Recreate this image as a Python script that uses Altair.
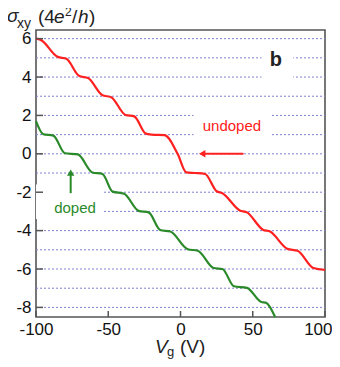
import altair as alt
import pandas as pd

# ---- data ----
red_x = [-100, -97, -85, -79, -70, -64, -54, -48, -38, -32, -24, -20, -11, -2, 4, 10, 17, 25, 29, 41, 46, 57, 62, 74, 81, 92, 100]
red_y = [6.0, 5.95, 5.05, 4.95, 4.05, 3.95, 3.05, 2.95, 2.02, 1.95, 1.05, 1.0, 0.97, 0.0, -0.97, -1.0, -1.05, -1.95, -2.05, -2.95, -3.05, -3.95, -4.05, -4.95, -5.05, -5.95, -6.05]

green_x = [-100, -95, -88, -80, -71, -61, -54, -47, -39, -29, -22, -14, -7, 5, 12, 23, 29, 37, 46, 56, 59, 65.5]
green_y = [1.7, 1.02, 0.95, 0.03, -0.03, -0.97, -1.05, -1.97, -2.08, -2.97, -3.05, -3.97, -4.05, -4.97, -5.05, -5.95, -6.0, -6.9, -6.98, -7.72, -7.75, -8.5]

grid_y = list(range(-8, 7))
ytick_vals = [-8, -6, -4, -2, 0, 2, 4, 6]
xtick_vals = [-100, -50, 0, 50, 100]

# white boxes behind the in-plot labels (gaps in the grid)
gap_x = [56, 9, -100]
gap_x2 = [78, 62, -54]
gap_y = [3.7, 0.7, -3.4]
gap_y2 = [5.5, 2.3, -1.6]

# arrows
u_arrow_x, u_arrow_x2, u_arrow_y = 43.6, 12.5, 0.0
d_arrow_x, d_arrow_y, d_arrow_y2 = -76, -2.05, -0.8

W, H = 289, 287
RED = "#ff2020"
GREEN = "#2a8a2a"
FRAME = "#555555"
FONT = "Liberation Sans"

xs = alt.Scale(domain=[-100, 100], nice=False, zero=False)
ys = alt.Scale(domain=[-8.5, 6.45], nice=False, zero=False)

xaxis = alt.Axis(values=xtick_vals, tickSize=0, domain=False, grid=False, labelFontSize=17, labelFont=FONT,
                 labelColor="#111", labelPadding=4, title=None, labelFlush=False,
                 labelExpr="'' + datum.value",
                 labelAlign=alt.condition("datum.value == 100", alt.value("right"), alt.value("center")),
                 labelOffset=alt.condition("datum.value == 100", alt.value(7), alt.value(0)))
yaxis = alt.Axis(values=ytick_vals, tickSize=0, domain=False, grid=False, labelFontSize=17, labelFont=FONT,
                 labelColor="#111", labelPadding=5, title=None, labelFlush=False,
                 labelExpr="'' + datum.value")


def X(f):
    return alt.X(f, scale=xs, axis=xaxis)


def Y(f):
    return alt.Y(f, scale=ys, axis=yaxis)


curves = pd.concat([
    pd.DataFrame({"x": red_x, "y": red_y, "s": "undoped"}),
    pd.DataFrame({"x": green_x, "y": green_y, "s": "doped"}),
])

one = pd.DataFrame({"_": [0]})

grid = alt.Chart(pd.DataFrame({"y": grid_y})).mark_rule(
    color="#8080d8", strokeDash=[2, 2], strokeWidth=1
).encode(y=Y("y:Q"), x=alt.value(0), x2=alt.value(W))

gaps = alt.Chart(pd.DataFrame({"x": gap_x, "x2": gap_x2, "y": gap_y, "y2": gap_y2})).mark_rect(
    color="white"
).encode(x=X("x:Q"), x2="x2:Q", y=Y("y:Q"), y2="y2:Q")

lines = alt.Chart(curves).mark_line(interpolate="monotone", strokeWidth=2.2).encode(
    x=X("x:Q"), y=Y("y:Q"), detail="s:N",
    color=alt.Color("s:N", scale=alt.Scale(domain=["undoped", "doped"], range=[RED, GREEN]), legend=None),
)

yticks = alt.Chart(pd.DataFrame({"y": ytick_vals})).mark_rule(color=FRAME, strokeWidth=1.5).encode(
    y=Y("y:Q"), x=alt.value(0), x2=alt.value(7))
xticks = alt.Chart(pd.DataFrame({"x": xtick_vals})).mark_rule(color=FRAME, strokeWidth=1.5).encode(
    x=X("x:Q"), y=alt.value(H), y2=alt.value(H - 6))

u_arrow = alt.Chart(pd.DataFrame({"x": [u_arrow_x], "x2": [u_arrow_x2 + 3], "y": [u_arrow_y]})).mark_rule(
    color=RED, strokeWidth=2).encode(x=X("x:Q"), x2="x2:Q", y=Y("y:Q"))
u_head = alt.Chart(pd.DataFrame({"x": [u_arrow_x2 + 2.5], "y": [u_arrow_y]})).mark_point(
    shape="triangle-left", filled=True, color=RED, size=55, opacity=1).encode(x=X("x:Q"), y=Y("y:Q"))

d_arrow = alt.Chart(pd.DataFrame({"x": [d_arrow_x], "y": [d_arrow_y], "y2": [d_arrow_y2 - 0.2]})).mark_rule(
    color=GREEN, strokeWidth=2).encode(x=X("x:Q"), y=Y("y:Q"), y2="y2:Q")
d_head = alt.Chart(pd.DataFrame({"x": [d_arrow_x], "y": [d_arrow_y2 - 0.18]})).mark_point(
    shape="triangle-up", filled=True, color=GREEN, size=55, opacity=1).encode(x=X("x:Q"), y=Y("y:Q"))

blabel = alt.Chart(pd.DataFrame({"x": [66], "y": [4.55], "t": ["b"]})).mark_text(
    font=FONT, fontSize=20, fontWeight="bold", baseline="alphabetic", align="center", color="#222").encode(
    x=X("x:Q"), y=Y("y:Q"), text="t:N")
labels2 = alt.Chart(pd.DataFrame({"x": [35.6, -73], "y": [1.2, -3.1], "t": ["undoped", "doped"],
                                  "c": ["undoped", "doped"]})).mark_text(
    font=FONT, fontSize=15, baseline="alphabetic", align="center").encode(
    x=X("x:Q"), y=Y("y:Q"), text="t:N",
    color=alt.Color("c:N", scale=alt.Scale(domain=["undoped", "doped"], range=[RED, GREEN]), legend=None))


def txt(s, x, y, size, style="normal", align="left"):
    return alt.Chart(one).mark_text(text=s, font=FONT, fontSize=size, fontStyle=style, align=align,
                                    baseline="alphabetic", color="#222").encode(x=alt.value(x), y=alt.value(y))


# title pieces (relative to plot origin)
title_parts = [
    txt("σ", -29, -8, 19, "italic"),
    txt("xy", -19, -2.5, 14),
    txt("(4", 2, -7.5, 19),
    txt("e", 18, -7.5, 19, "italic"),
    txt("2", 29, -14.5, 12),
    txt("/", 36, -7.5, 19),
    txt("h", 42, -7.5, 19, "italic"),
    txt(")", 53, -7.5, 19),
]
xtitle_parts = [
    txt("V", 119, 323, 19, "italic"),
    txt("g", 131, 325.5, 13),
    txt("(V)", 144, 323, 19),
]

chart = alt.layer(
    grid, gaps, lines, yticks, xticks, u_arrow, u_head, d_arrow, d_head, labels2, blabel,
    *title_parts, *xtitle_parts,
).properties(
    width=W, height=H,
    padding={"left": 28, "top": 22, "right": 7, "bottom": 42},
    autosize=alt.AutoSizeParams(type="none"),
).configure_view(stroke=FRAME, strokeWidth=1.6)

chart.save("out.html", embed_options={"renderer": "svg", "actions": False})
